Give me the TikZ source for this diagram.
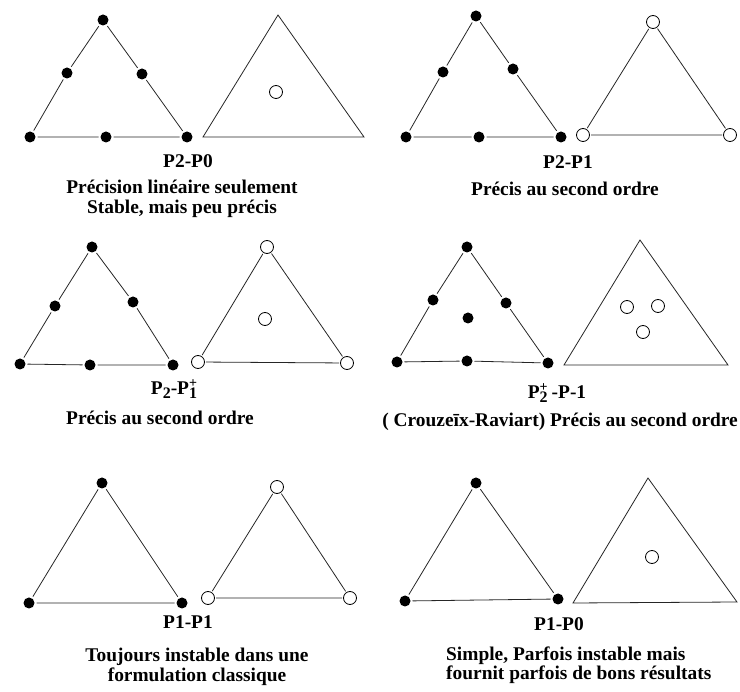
\documentclass[tikz,border=0pt]{standalone}
\usepackage{fontspec}
\setmainfont{Liberation Serif}
\newcommand{\supsubst}[2]{\raisebox{-0.45ex}{\ooalign{\raisebox{1.3ex}{\fontsize{14}{14}\selectfont #1}\cr\fontsize{16}{16}\selectfont #2\cr}}}
\begin{document}
\begin{tikzpicture}[x=1pt,y=-1pt,
  fdot/.style={circle,fill=black,inner sep=0pt,minimum size=11pt,outer sep=2pt},
  odot/.style={circle,draw=black,line width=0.8pt,fill=white,inner sep=0pt,minimum size=13pt,outer sep=1.5pt},
  edge/.style={draw=black!85,line width=0.8pt},
  lbl/.style={font=\bfseries\fontsize{19.4}{19.4}\selectfont,inner sep=0pt},
  desc/.style={font=\bfseries\fontsize{19.4}{19.5}\selectfont,inner sep=0pt,align=center}]
\useasboundingbox (0,0) rectangle (740,692);
% ---------- Panel 1: P2-P0
\node[fdot] (p1a) at (103,20) {};
\node[fdot] (p1b) at (30,137) {};
\node[fdot] (p1c) at (187,137) {};
\node[fdot] (p1ab) at (67,73) {};
\node[fdot] (p1ac) at (142,74) {};
\node[fdot] (p1bc) at (106,137) {};
\draw[edge] (p1a) -- (p1ab) -- (p1b) -- (p1bc) -- (p1c) -- (p1ac) -- (p1a);
\coordinate (q1a) at (278,15);
\coordinate (q1b) at (203,137);
\coordinate (q1c) at (364,137);
\draw[edge] (q1a) -- (q1b) -- (q1c) -- cycle;
\node[odot] (q1m) at (276,92) {};
\node[lbl] (t1) at (188,161) {P2-P0};
\node[desc] (d1) at (182,199) {Précision linéaire seulement\\Stable, mais peu précis};
% ---------- Panel 2: P2-P1
\node[fdot] (p2a) at (476,16) {};
\node[fdot] (p2b) at (406,137) {};
\node[fdot] (p2c) at (561,137) {};
\node[fdot] (p2ab) at (443,72) {};
\node[fdot] (p2ac) at (513,69) {};
\node[fdot] (p2bc) at (479,137) {};
\draw[edge] (p2a) -- (p2ab) -- (p2b) -- (p2bc) -- (p2c) -- (p2ac) -- (p2a);
\node[odot] (q2a) at (653,22) {};
\node[odot] (q2b) at (583,135) {};
\node[odot] (q2c) at (730,135) {};
\draw[edge] (q2a) -- (q2b) -- (q2c) -- (q2a);
\node[lbl] (t2) at (568,162) {P2-P1};
\node[desc] (d2) at (565,189) {Précis au second ordre};
% ---------- Panel 3: P2-P1+
\node[fdot] (p3a) at (92,247) {};
\node[fdot] (p3b) at (20,364) {};
\node[fdot] (p3c) at (173,365) {};
\node[fdot] (p3ab) at (55,306) {};
\node[fdot] (p3ac) at (133,302) {};
\node[fdot] (p3bc) at (90,365) {};
\draw[edge] (p3a) -- (p3ab) -- (p3b) -- (p3bc) -- (p3c) -- (p3ac) -- (p3a);
\node[odot] (q3a) at (267,247) {};
\node[odot] (q3b) at (198,362) {};
\node[odot] (q3c) at (347,363) {};
\node[odot] (q3m) at (265,319) {};
\draw[edge] (q3a) -- (q3b) -- (q3c) -- (q3a);
\node[lbl] (t3) at (174,389) {P\raisebox{-0.45ex}{\fontsize{16}{16}\selectfont 2}-P\supsubst{+}{1}};
\node[desc] (d3) at (160,418) {Précis au second ordre};
% ---------- Panel 4: P2+ - P-1
\node[fdot] (p4a) at (467,247) {};
\node[fdot] (p4b) at (397,362) {};
\node[fdot] (p4c) at (548,363) {};
\node[fdot] (p4ab) at (433,300) {};
\node[fdot] (p4ac) at (506,303) {};
\node[fdot] (p4bc) at (467,361) {};
\node[fdot] (p4m) at (468,318) {};
\draw[edge] (p4a) -- (p4ab) -- (p4b) -- (p4bc) -- (p4c) -- (p4ac) -- (p4a);
\coordinate (q4a) at (640,240);
\coordinate (q4b) at (564,365);
\coordinate (q4c) at (728,365);
\draw[edge] (q4a) -- (q4b) -- (q4c) -- cycle;
\node[odot] (q4m1) at (627,307) {};
\node[odot] (q4m2) at (658,306) {};
\node[odot] (q4m3) at (643,332) {};
\node[lbl] (t4) at (557,393) {P\supsubst{+}{2}\hspace{4pt}-P-1};
\node[desc,anchor=east] (d4) at (738,422) {( Crouze\={\i}x-Raviart) Précis au second ordre};
% ---------- Panel 5: P1-P1
\node[fdot] (p5a) at (102,483) {};
\node[fdot] (p5b) at (29,603) {};
\node[fdot] (p5c) at (182,603) {};
\draw[edge] (p5a) -- (p5b) -- (p5c) -- (p5a);
\node[odot] (q5a) at (277,487) {};
\node[odot] (q5b) at (208,598) {};
\node[odot] (q5c) at (350,598) {};
\draw[edge] (q5a) -- (q5b) -- (q5c) -- (q5a);
\node[lbl] (t5) at (188,622) {P1-P1};
\node[desc] (d5) at (197,667) {Toujours instable dans une\\formulation classique};
% ---------- Panel 6: P1-P0
\node[fdot] (p6a) at (476,483) {};
\node[fdot] (p6b) at (405,601) {};
\node[fdot] (p6c) at (558,599) {};
\draw[edge] (p6a) -- (p6b) -- (p6c) -- (p6a);
\coordinate (q6a) at (648,478);
\coordinate (q6b) at (573,603);
\coordinate (q6c) at (737,602);
\draw[edge] (q6a) -- (q6b) -- (q6c) -- cycle;
\node[odot] (q6m) at (652,557) {};
\node[lbl] (t6) at (559,624) {P1-P0};
\node[desc,align=left,anchor=west] (d6) at (446,665) {Simple, Parfois instable mais\\fournit parfois de bons résultats};
\end{tikzpicture}
\end{document}
